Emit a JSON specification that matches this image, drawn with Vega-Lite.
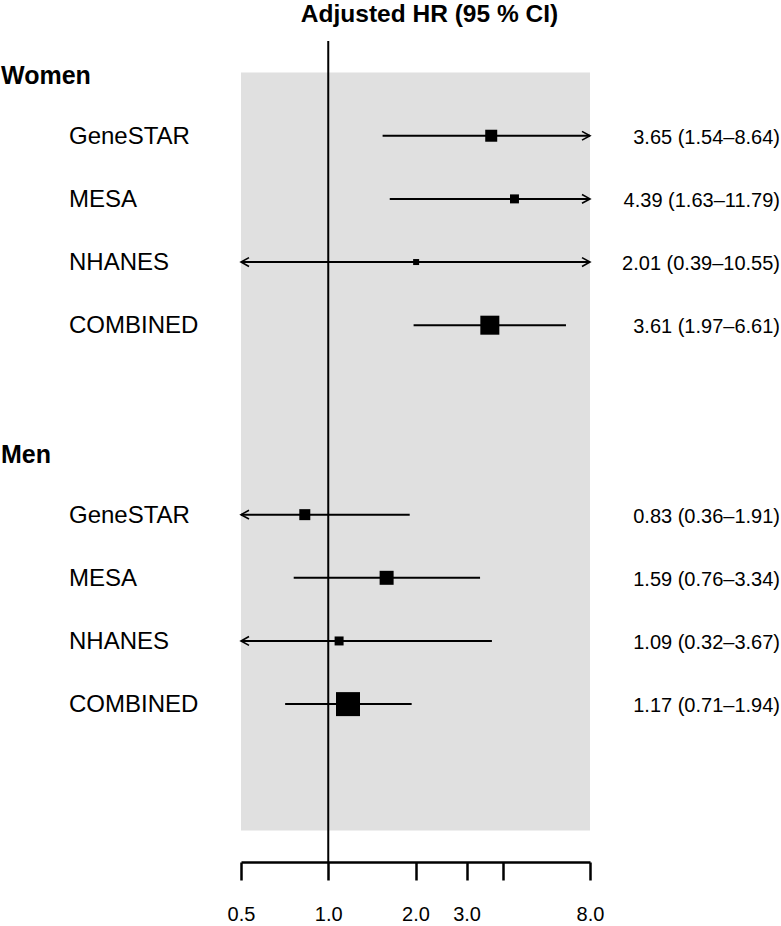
{
  "$schema": "https://vega.github.io/schema/vega-lite/v6.json",
  "width": 349,
  "height": 821,
  "autosize": {"type": "none"},
  "padding": {"left": 241, "top": 41, "right": 191, "bottom": 64},
  "background": "white",
  "title": {"text": "Adjusted HR (95 % CI)", "font": "Liberation Sans", "fontSize": 24.5, "fontWeight": "bold", "anchor": "middle", "dx": 14, "offset": 13, "color": "black"},
  "config": {"view": {"stroke": null}, "font": "Liberation Sans"},
  "data": {"values": [
    {"label": "Women", "type": "header", "row": 0},
    {"label": "GeneSTAR", "group": "Women", "type": "study", "row": 1, "hr": 3.65, "lo": 1.54, "hi": 8.64, "weight": 25, "ci": "3.65 (1.54–8.64)"},
    {"label": "MESA", "group": "Women", "type": "study", "row": 2, "hr": 4.39, "lo": 1.63, "hi": 11.79, "weight": 14, "ci": "4.39 (1.63–11.79)"},
    {"label": "NHANES", "group": "Women", "type": "study", "row": 3, "hr": 2.01, "lo": 0.39, "hi": 10.55, "weight": 6.25, "ci": "2.01 (0.39–10.55)"},
    {"label": "COMBINED", "group": "Women", "type": "study", "row": 4, "hr": 3.61, "lo": 1.97, "hi": 6.61, "weight": 62.7, "ci": "3.61 (1.97–6.61)"},
    {"label": "Men", "type": "header", "row": 6},
    {"label": "GeneSTAR", "group": "Men", "type": "study", "row": 7, "hr": 0.83, "lo": 0.36, "hi": 1.91, "weight": 21, "ci": "0.83 (0.36–1.91)"},
    {"label": "MESA", "group": "Men", "type": "study", "row": 8, "hr": 1.59, "lo": 0.76, "hi": 3.34, "weight": 34, "ci": "1.59 (0.76–3.34)"},
    {"label": "NHANES", "group": "Men", "type": "study", "row": 9, "hr": 1.09, "lo": 0.32, "hi": 3.67, "weight": 14, "ci": "1.09 (0.32–3.67)"},
    {"label": "COMBINED", "group": "Men", "type": "study", "row": 10, "hr": 1.17, "lo": 0.71, "hi": 1.94, "weight": 100, "ci": "1.17 (0.71–1.94)"}
  ]},
  "layer": [
    {
      "data": {"values": [{}]},
      "mark": {"type": "rect", "color": "#e0e0e0"},
      "encoding": {
        "x": {"datum": 0.5, "type": "quantitative", "scale": {"type": "log", "domain": [0.5, 8], "clamp": true, "nice": false},
              "axis": {"title": null, "values": [0.5, 1, 2, 3, 4, 8], "labelExpr": "datum.value == 4 ? '' : format(datum.value, '.1f')", "grid": false, "domainColor": "black", "domainWidth": 2.5, "tickColor": "black", "tickWidth": 2.5, "tickSize": 18, "labelFontSize": 20, "labelColor": "black", "labelFont": "Liberation Sans", "labelPadding": 24, "labelOverlap": false, "labelFlush": false, "labelBound": false}},
        "x2": {"datum": 8},
        "y": {"datum": 0, "type": "quantitative", "scale": {"domain": [-0.5, 12.5], "reverse": true, "nice": false, "zero": false}, "axis": null},
        "y2": {"datum": 12}
      }
    },
    {
      "data": {"values": [{}]},
      "mark": {"type": "rule", "color": "black", "strokeWidth": 2},
      "encoding": {
        "x": {"datum": 1, "type": "quantitative"},
        "y": {"datum": -0.5, "type": "quantitative", "axis": null},
        "y2": {"datum": 12.5}
      }
    },
    {
      "transform": [{"filter": "datum.type == 'study'"}],
      "mark": {"type": "rule", "color": "black", "strokeWidth": 2},
      "encoding": {
        "x": {"field": "lo", "type": "quantitative"},
        "x2": {"field": "hi"},
        "y": {"field": "row", "type": "quantitative", "axis": null}
      }
    },
    {
      "transform": [{"filter": "datum.type == 'study'"}],
      "mark": {"type": "square", "filled": true, "color": "black", "opacity": 1},
      "encoding": {
        "x": {"field": "hr", "type": "quantitative"},
        "y": {"field": "row", "type": "quantitative", "axis": null},
        "size": {"field": "weight", "type": "quantitative", "scale": {"type": "linear", "domain": [0, 100], "range": [0, 576]}, "legend": null}
      }
    },
    {
      "transform": [{"filter": "datum.type == 'study' && datum.hi > 8"}],
      "mark": {"type": "point", "shape": "M-2,-1.1L0,0L-2,1.1", "filled": false, "color": "black", "strokeWidth": 1.6, "opacity": 1, "size": 64},
      "encoding": {
        "x": {"datum": 8, "type": "quantitative"},
        "y": {"field": "row", "type": "quantitative", "axis": null}
      }
    },
    {
      "transform": [{"filter": "datum.type == 'study' && datum.lo < 0.5"}],
      "mark": {"type": "point", "shape": "M2,-1.1L0,0L2,1.1", "filled": false, "color": "black", "strokeWidth": 1.6, "opacity": 1, "size": 64},
      "encoding": {
        "x": {"datum": 0.5, "type": "quantitative"},
        "y": {"field": "row", "type": "quantitative", "axis": null}
      }
    },
    {
      "transform": [{"filter": "datum.type == 'study'"}],
      "mark": {"type": "text", "align": "left", "baseline": "middle", "dx": -172, "dy": 1, "fontSize": 24, "font": "Liberation Sans", "color": "black"},
      "encoding": {
        "x": {"datum": 0.5, "type": "quantitative"},
        "y": {"field": "row", "type": "quantitative", "axis": null},
        "text": {"field": "label"}
      }
    },
    {
      "transform": [{"filter": "datum.type == 'header'"}],
      "mark": {"type": "text", "align": "left", "baseline": "middle", "dx": -240, "dy": 3, "fontSize": 25, "fontWeight": "bold", "font": "Liberation Sans", "color": "black"},
      "encoding": {
        "x": {"datum": 0.5, "type": "quantitative"},
        "y": {"field": "row", "type": "quantitative", "axis": null},
        "text": {"field": "label"}
      }
    },
    {
      "transform": [{"filter": "datum.type == 'study'"}],
      "mark": {"type": "text", "align": "right", "baseline": "middle", "dx": 190, "dy": 2, "fontSize": 20, "font": "Liberation Sans", "color": "black"},
      "encoding": {
        "x": {"datum": 8, "type": "quantitative"},
        "y": {"field": "row", "type": "quantitative", "axis": null},
        "text": {"field": "ci"}
      }
    }
  ]
}
